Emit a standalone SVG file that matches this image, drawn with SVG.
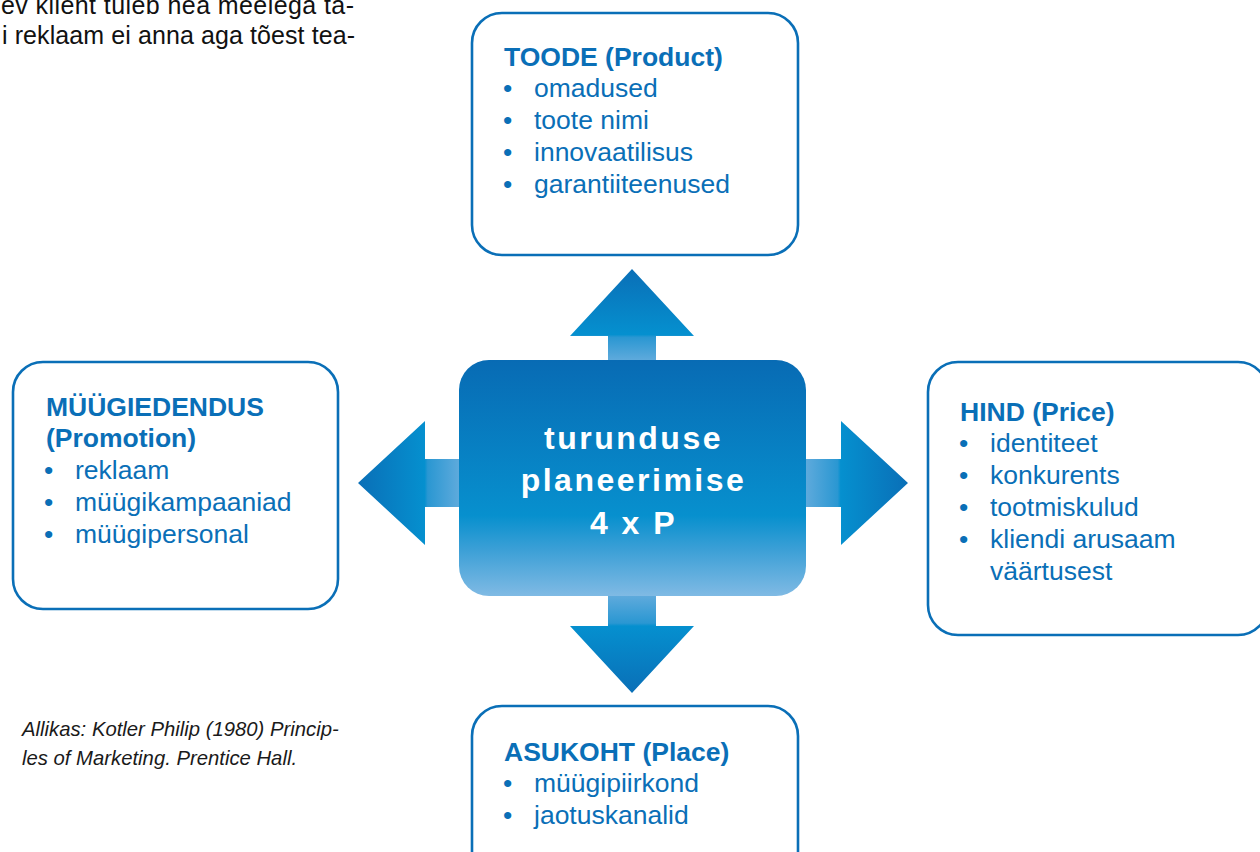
<svg xmlns="http://www.w3.org/2000/svg" width="1260" height="852" viewBox="0 0 1260 852">
<defs>
<style>
.box{fill:#fff;stroke:#0a6fb7;stroke-width:2.6}
.hd{font-family:"Liberation Sans",Arial,sans-serif;font-weight:bold;font-size:26.5px;fill:#0a6fb7}
.it{font-family:"Liberation Sans",Arial,sans-serif;font-size:26.5px;fill:#0a6fb7}
.ctr{font-family:"Liberation Sans",Arial,sans-serif;font-weight:bold;font-size:32px;fill:#fff;letter-spacing:2.5px}
.body{font-family:"Liberation Sans",Arial,sans-serif;font-size:25px;fill:#111}
.cap{font-family:"Liberation Sans",Arial,sans-serif;font-style:italic;font-size:20.3px;fill:#1a1a1a}
</style>
<linearGradient id="gC" x1="0" y1="0" x2="0" y2="1">
<stop offset="0" stop-color="#086bb4"/>
<stop offset="0.66" stop-color="#0790ce"/>
<stop offset="0.8" stop-color="#3a9fd6"/>
<stop offset="1" stop-color="#80bae4"/>
</linearGradient>
<linearGradient id="gU" gradientUnits="userSpaceOnUse" x1="0" y1="269" x2="0" y2="360">
<stop offset="0" stop-color="#0a6fb7"/>
<stop offset="0.72" stop-color="#0590cf"/>
<stop offset="0.75" stop-color="#2a97d2"/>
<stop offset="1" stop-color="#5eaadc"/>
</linearGradient>
<linearGradient id="gD" gradientUnits="userSpaceOnUse" x1="0" y1="693" x2="0" y2="596">
<stop offset="0" stop-color="#0a6fb7"/>
<stop offset="0.69" stop-color="#0590cf"/>
<stop offset="0.72" stop-color="#2a97d2"/>
<stop offset="1" stop-color="#5eaadc"/>
</linearGradient>
<linearGradient id="gL" gradientUnits="userSpaceOnUse" x1="358" y1="0" x2="459" y2="0">
<stop offset="0" stop-color="#0a6fb7"/>
<stop offset="0.66" stop-color="#0590cf"/>
<stop offset="0.69" stop-color="#2a97d2"/>
<stop offset="1" stop-color="#5eaadc"/>
</linearGradient>
<linearGradient id="gR" gradientUnits="userSpaceOnUse" x1="908" y1="0" x2="806" y2="0">
<stop offset="0" stop-color="#0a6fb7"/>
<stop offset="0.66" stop-color="#0590cf"/>
<stop offset="0.69" stop-color="#2a97d2"/>
<stop offset="1" stop-color="#5eaadc"/>
</linearGradient>
</defs>
<rect width="1260" height="852" fill="#fff"/>

<g id="bodytext">
<text class="body" x="1" y="14" textLength="353" lengthAdjust="spacing">ev klient tuleb hea meelega ta-</text>
<text class="body" x="2" y="44" textLength="353" lengthAdjust="spacing">i reklaam ei anna aga tõest tea-</text>
</g>

<g id="connectors">
<polygon fill="url(#gU)" points="632,269 694,336 656,336 656,362 608,362 608,336 570,336"/>
<polygon fill="url(#gD)" points="632,693 694,626 656,626 656,594 608,594 608,626 570,626"/>
<polygon fill="url(#gL)" points="358,483 425,421 425,459 461,459 461,507 425,507 425,545"/>
<polygon fill="url(#gR)" points="908,483 841,421 841,459 804,459 804,507 841,507 841,545"/>
</g>

<g id="center">
<rect x="459" y="360" width="347" height="236" rx="30" ry="30" fill="url(#gC)"/>
<text class="ctr" x="633.5" y="449" text-anchor="middle">turunduse</text>
<text class="ctr" x="633.5" y="491" text-anchor="middle">planeerimise</text>
<text class="ctr" x="633.5" y="534" text-anchor="middle">4 x P</text>
</g>

<g id="product">
<rect class="box" x="472" y="13" width="326" height="242" rx="30" ry="30"/>
<text class="hd" x="504" y="66">TOODE (Product)</text>
<text class="it" x="503" y="97">•</text><text class="it" x="534" y="97">omadused</text>
<text class="it" x="503" y="129">•</text><text class="it" x="534" y="129">toote nimi</text>
<text class="it" x="503" y="161">•</text><text class="it" x="534" y="161">innovaatilisus</text>
<text class="it" x="503" y="193">•</text><text class="it" x="534" y="193">garantiiteenused</text>
</g>

<g id="promotion">
<rect class="box" x="13" y="362" width="325" height="247" rx="30" ry="30"/>
<text class="hd" x="46" y="416">MÜÜGIEDENDUS</text>
<text class="hd" x="46" y="447">(Promotion)</text>
<text class="it" x="44" y="479">•</text><text class="it" x="75" y="479">reklaam</text>
<text class="it" x="44" y="511">•</text><text class="it" x="75" y="511">müügikampaaniad</text>
<text class="it" x="44" y="543">•</text><text class="it" x="75" y="543">müügipersonal</text>
</g>

<g id="price">
<rect class="box" x="928" y="362" width="340" height="273" rx="30" ry="30"/>
<text class="hd" x="960" y="421">HIND (Price)</text>
<text class="it" x="959" y="452">•</text><text class="it" x="990" y="452">identiteet</text>
<text class="it" x="959" y="484">•</text><text class="it" x="990" y="484">konkurents</text>
<text class="it" x="959" y="516">•</text><text class="it" x="990" y="516">tootmiskulud</text>
<text class="it" x="959" y="548">•</text><text class="it" x="990" y="548">kliendi arusaam</text>
<text class="it" x="990" y="580">väärtusest</text>
</g>

<g id="place">
<rect class="box" x="472" y="706" width="326" height="180" rx="30" ry="30"/>
<text class="hd" x="504" y="761">ASUKOHT (Place)</text>
<text class="it" x="503" y="792">•</text><text class="it" x="534" y="792">müügipiirkond</text>
<text class="it" x="503" y="824">•</text><text class="it" x="534" y="824">jaotuskanalid</text>
</g>

<g id="source">
<text class="cap" x="22" y="736">Allikas: Kotler Philip (1980) Princip-</text>
<text class="cap" x="22" y="765">les of Marketing. Prentice Hall.</text>
</g>
</svg>
